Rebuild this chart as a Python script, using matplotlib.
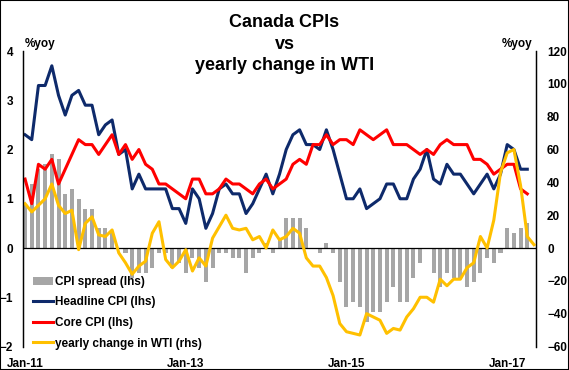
import numpy as np
import matplotlib
matplotlib.use('Agg')
import matplotlib.pyplot as plt

plt.rcParams['font.family'] = ['Liberation Sans', 'DejaVu Sans']
plt.rcParams['font.weight'] = 'bold'

# monthly data, Jan-11 .. Apr-17 (WTI to May-17)
headline = [2.3, 2.2, 3.3, 3.3, 3.7, 3.1, 2.7, 3.1, 3.2, 2.9, 2.9, 2.3,
            2.5, 2.6, 1.9, 2.0, 1.2, 1.5, 1.2, 1.2, 1.2, 1.2, 0.8, 0.8,
            0.5, 1.2, 1.0, 0.4, 0.7, 1.2, 1.3, 1.1, 1.1, 0.7, 0.9, 1.2,
            1.5, 1.1, 1.5, 2.0, 2.3, 2.4, 2.1, 2.1, 2.0, 2.4, 2.0, 1.5,
            1.0, 1.0, 1.2, 0.8, 0.9, 1.0, 1.3, 1.3, 1.0, 1.0, 1.4, 1.6,
            2.0, 1.4, 1.3, 1.7, 1.5, 1.5, 1.3, 1.1, 1.3, 1.5, 1.2, 1.5,
            2.1, 2.0, 1.6, 1.6]
core = [1.4, 0.9, 1.7, 1.6, 1.8, 1.3, 1.6, 1.9, 2.2, 2.1, 2.1, 1.9,
        2.1, 2.3, 1.9, 2.1, 1.8, 2.0, 1.7, 1.6, 1.3, 1.3, 1.2, 1.1,
        1.0, 1.4, 1.4, 1.1, 1.1, 1.2, 1.4, 1.3, 1.3, 1.2, 1.1, 1.3,
        1.4, 1.2, 1.3, 1.4, 1.7, 1.8, 1.7, 2.1, 2.1, 2.3, 2.1, 2.2,
        2.2, 2.1, 2.4, 2.3, 2.2, 2.3, 2.4, 2.1, 2.1, 2.1, 2.0, 1.9,
        2.0, 1.9, 2.1, 2.2, 2.1, 2.1, 2.1, 1.8, 1.8, 1.7, 1.5, 1.6,
        1.7, 1.7, 1.2, 1.1]
spread = [0.9, 1.3, 1.6, 1.7, 1.9, 1.8, 1.1, 1.2, 1.0, 0.8, 0.8, 0.4,
          0.4, 0.3, 0.0, -0.1, -0.6, -0.5, -0.5, -0.4, -0.1, -0.1, -0.4, -0.3,
          -0.5, -0.2, -0.4, -0.7, -0.4, -0.1, -0.1, -0.2, -0.2, -0.5, -0.2, -0.1,
          0.1, -0.1, 0.2, 0.6, 0.6, 0.6, 0.4, 0.0, -0.1, 0.1, -0.1, -0.7,
          -1.2, -1.1, -1.2, -1.5, -1.3, -1.3, -1.1, -0.8, -1.1, -1.1, -0.6, -0.3,
          0.0, -0.5, -0.8, -0.5, -0.6, -0.6, -0.8, -0.7, -0.5, -0.2, -0.3, -0.1,
          0.4, 0.3, 0.4, 0.5]
wti = [27, 22, 26, 30, 39, 26, 21, 23, -1, 15, 19, 8,
       7, 11, -3, -9, -16, -11, -8, 9, 16, -7, -12, -8,
       -1, -14, -6, -11, 6, 13, 20, 12, 11, 12, 5, 7,
       0, 11, 5, 7, 12, 9, -6, -11, -11, -18, -29, -46,
       -51, -52, -53, -40, -42, -44, -52, -49, -50, -42, -37, -30,
       -30, -33, -19, -23, -19, -19, -12, -9, 7, 0, 17, 46,
       58, 60, 38, 7, 2]

tick_pos = [0, 24, 48, 72]
tick_lab = ['Jan-11', 'Jan-13', 'Jan-15', 'Jan-17']

x = np.arange(len(headline))
xw = np.arange(len(wti))

fig = plt.figure(figsize=(5.69, 3.70), dpi=100)
ax = fig.add_axes([0.0399, 0.0635, 0.9021, 0.7986])
ax2 = ax.twinx()

b = ax.bar(x, spread, width=0.6, color='#A6A6A6', label='CPI spread (lhs)')
l1, = ax.plot(x, headline, color='#0E2A6B', lw=2.2, label='Headline CPI (lhs)')
l2, = ax.plot(x, core, color='#FF0000', lw=2.2, label='Core CPI (lhs)')
ax.axhline(0, color='black', lw=0.9)
l3, = ax2.plot(xw, wti, color='#FFC000', lw=2.2, label='yearly change in WTI (rhs)')

ax.set_xlim(-0.35, 76.3)
ax.set_ylim(-2, 4)
ax2.set_ylim(-60, 120)
ax.set_yticks([-2, -1, 0, 1, 2, 3, 4])
ax2.set_yticks(range(-60, 121, 20))
ax.set_xticks(tick_pos)
ax.set_xticklabels(tick_lab)

for a in (ax, ax2):
    a.spines['top'].set_visible(False)
    a.spines['bottom'].set_visible(False)
    a.spines['left'].set_linewidth(0.9)
    a.spines['right'].set_linewidth(0.9)
    a.tick_params(length=0, labelsize=8.5)
ax.tick_params(axis='y', pad=7)
ax.tick_params(axis='x', pad=8)
ax2.tick_params(axis='y', pad=8)

fig.text(0.5, 1 - 14 / 370, 'Canada CPIs\nvs\nyearly change in WTI', ha='center', va='top',
         fontsize=13, fontweight='bold', linespacing=1.35)
fig.text(25 / 569, 1 - 44 / 370, '%yoy', ha='left', va='center', fontsize=8.5, fontweight='bold')
fig.text(532 / 569, 1 - 44 / 370, '%yoy', ha='right', va='center', fontsize=8.5, fontweight='bold')

fig.legend([b, l1, l2, l3], [h.get_label() for h in (b, l1, l2, l3)],
           loc='upper left', bbox_to_anchor=(33 / 569, 1 - 276 / 370), frameon=False,
           fontsize=8.5, borderpad=0, borderaxespad=0, handlelength=1.7,
           handletextpad=0.15, labelspacing=0.72)

fig.add_artist(plt.Rectangle((0, 0), 1, 1, transform=fig.transFigure, fill=False,
                             ec='black', lw=1.5))

fig.savefig('out.png', dpi=100)
